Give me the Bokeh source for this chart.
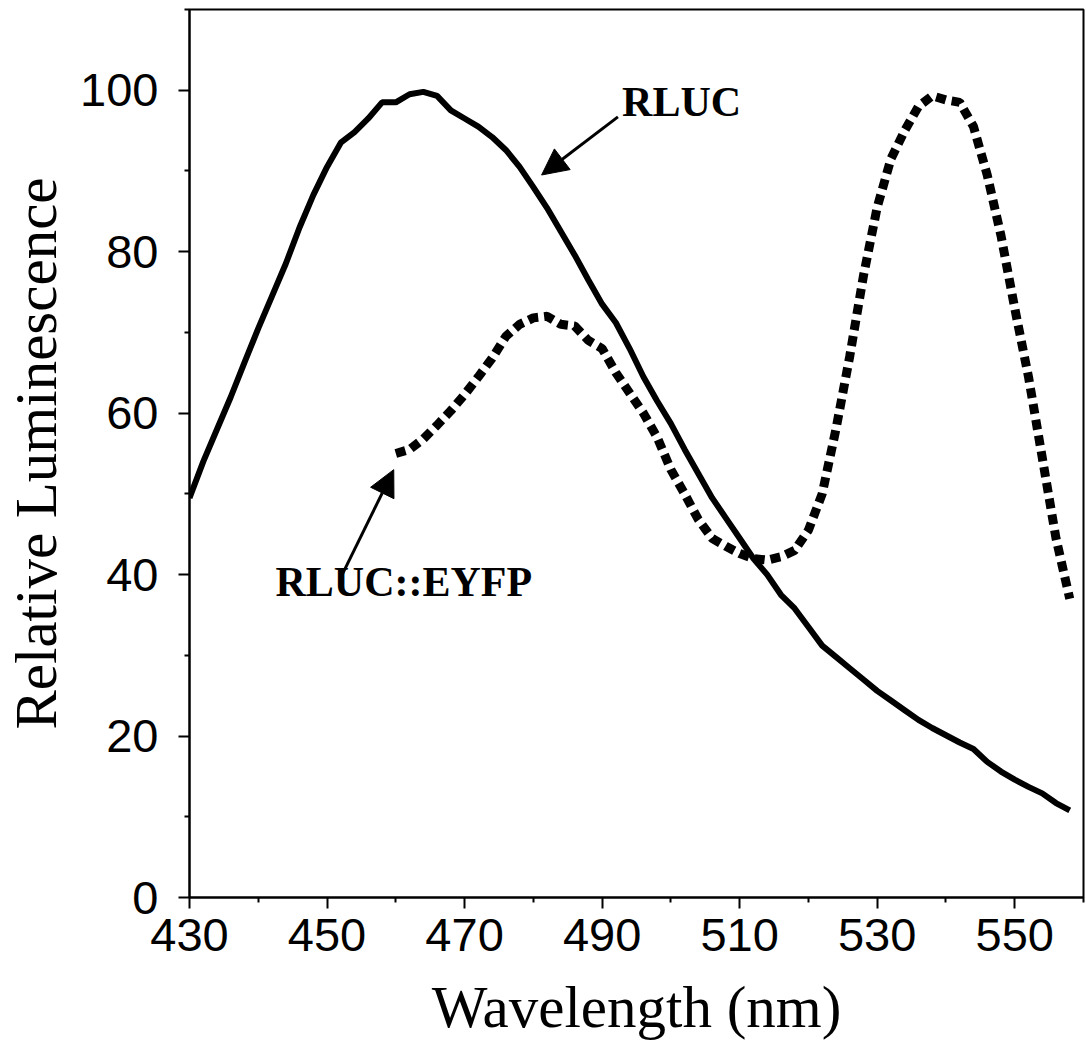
from bokeh.plotting import figure
from bokeh.models import Range1d, FixedTicker, Arrow, NormalHead, Label
from bokeh.embed import file_html
from bokeh.resources import INLINE

# ---- data ----
wl_rluc = [430, 432, 434, 436, 438, 440, 442, 444, 446, 448, 450, 452, 454, 456, 458, 460,
           462, 464, 466, 468, 470, 472, 474, 476, 478, 480, 482, 484, 486, 488, 490, 492,
           494, 496, 498, 500, 502, 504, 506, 508, 510, 512, 514, 516, 518, 520, 522, 524,
           526, 528, 530, 532, 534, 536, 538, 540, 542, 544, 546, 548, 550, 552, 554, 556, 558]
rluc = [49.5, 54, 58, 62, 66.3, 70.5, 74.5, 78.5, 83, 87, 90.5, 93.5, 94.8, 96.5, 98.5, 98.5,
        99.5, 99.8, 99.3, 97.5, 96.5, 95.5, 94.2, 92.6, 90.5, 88, 85.4, 82.5, 79.6, 76.5, 73.5, 71.2,
        68, 64.5, 61.5, 58.7, 55.5, 52.5, 49.5, 47, 44.5, 42, 40, 37.5, 35.8, 33.5, 31.2, 29.8,
        28.4, 27, 25.6, 24.4, 23.2, 22, 21, 20.1, 19.2, 18.4, 16.8, 15.6, 14.6, 13.7, 12.9, 11.7, 10.8]

wl_eyfp = [460, 462, 464, 466, 468, 470, 472, 474, 476, 478, 480, 482, 484, 486, 488, 490,
           492, 494, 496, 498, 500, 502, 504, 506, 508, 510, 512, 514, 516, 518, 520, 522,
           524, 526, 528, 530, 532, 534, 536, 538, 540, 542, 544, 546, 548, 550, 552, 554, 556, 558]
rluc_eyfp = [55, 55.5, 56.8, 58.5, 60.3, 62.3, 64.5, 66.8, 69.5, 71, 71.8, 72, 71, 70.8, 69, 68,
             65, 62.5, 60, 57, 53, 50, 46.8, 44.5, 43.5, 42.6, 42, 41.8, 42.2, 43, 45.5, 50,
             58, 67, 77, 85.5, 91.5, 95, 98, 99.3, 98.8, 98.5, 95.5, 89.5, 82, 73, 64.5, 54.5, 44.5, 37]

x_ticks = [430, 450, 470, 490, 510, 530, 550]
x_minor = [440, 460, 480, 500, 520, 540, 560]
y_ticks = [0, 20, 40, 60, 80, 100]
y_minor = [10, 30, 50, 70, 90, 110]

# ---- figure ----
p = figure(width=1086, height=1047, x_range=Range1d(430, 560), y_range=Range1d(0, 110),
           output_backend="svg", toolbar_location=None,
           min_border_left=187, min_border_right=3, min_border_top=9, min_border_bottom=150)
p.background_fill_color = "white"
p.border_fill_color = "white"
p.xgrid.visible = False
p.ygrid.visible = False
p.outline_line_color = "black"
p.outline_line_width = 2

p.xaxis.ticker = FixedTicker(ticks=x_ticks, minor_ticks=x_minor)
p.yaxis.ticker = FixedTicker(ticks=y_ticks, minor_ticks=y_minor)
for ax in (p.xaxis[0], p.yaxis[0]):
    ax.axis_line_width = 2
    ax.axis_line_color = "black"
    ax.major_tick_line_width = 2
    ax.minor_tick_line_width = 2
    ax.major_tick_line_color = "black"
    ax.minor_tick_line_color = "black"
    ax.major_tick_in = 0
    ax.major_tick_out = 11
    ax.minor_tick_in = 0
    ax.minor_tick_out = 5
    ax.major_label_text_font = "Liberation Sans"
    ax.major_label_text_font_size = "47px"
    ax.major_label_text_color = "black"
    ax.axis_label_text_font = "Liberation Serif"
    ax.axis_label_text_font_size = "59px"
    ax.axis_label_text_font_style = "normal"
    ax.axis_label_text_color = "black"

p.xaxis.axis_label = "Wavelength (nm)"
p.yaxis.axis_label = "Relative Luminescence"
p.xaxis.major_label_standoff = 10
p.yaxis.major_label_standoff = 20
p.xaxis.axis_label_standoff = 20
p.xaxis.axis_label_text_line_height = 0.8
p.yaxis.axis_label_standoff = 8
p.yaxis.axis_label_text_line_height = 1.0

p.line(wl_rluc, rluc, line_color="black", line_width=6)
p.line(wl_eyfp, rluc_eyfp, line_color="black", line_width=9, line_dash="10 6")

# ---- annotations ----
p.add_layout(Arrow(end=NormalHead(size=26, fill_color="black", line_color="black"),
                   x_start=492.3, y_start=96.7, x_end=481.2, y_end=89.5,
                   line_width=3, line_color="black"))
p.add_layout(Arrow(end=NormalHead(size=26, fill_color="black", line_color="black"),
                   x_start=452.2, y_start=40.0, x_end=459.7, y_end=53.0,
                   line_width=3, line_color="black"))

p.add_layout(Label(x=492.9, y=98.5, text="RLUC", text_font="Liberation Serif",
                   text_font_style="bold", text_font_size="42px", text_color="black",
                   text_baseline="alphabetic"))
p.add_layout(Label(x=442.5, y=39.1, text="RLUC::EYFP", text_font="Liberation Serif",
                   text_font_style="bold", text_font_size="42px", text_color="black",
                   text_baseline="alphabetic"))

open("out.html", "w").write(file_html(p, INLINE))
